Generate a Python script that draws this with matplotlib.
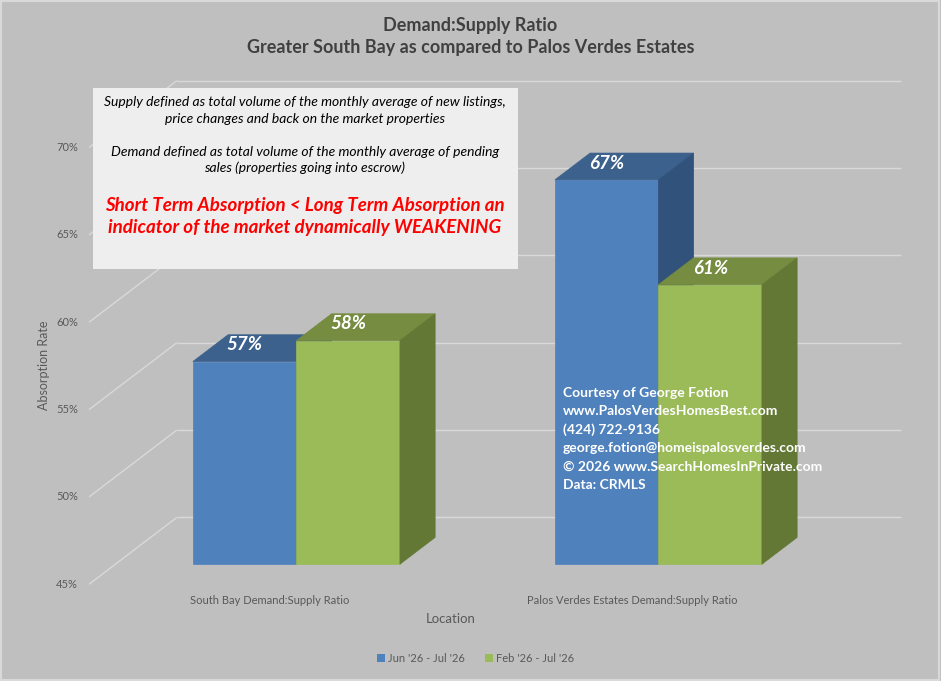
import matplotlib
matplotlib.use('Agg')
import matplotlib.pyplot as plt
from matplotlib.patches import Polygon, Rectangle, Patch

# Chart data
categories = ['South Bay Demand:Supply Ratio', 'Palos Verdes Estates Demand:Supply Ratio']
series_names = ["Jun '26 - Jul '26", "Feb '26 - Jul '26"]
short_term = [56.6, 67.0]
long_term = [57.8, 61.0]
y_ticks = [45, 50, 55, 60, 65, 70]

title_lines = ['Demand:Supply Ratio', 'Greater South Bay as compared to Palos Verdes Estates']
note_lines = ['Supply defined as total volume of the monthly average of new listings,',
              'price changes and back on the market properties',
              'Demand defined as total volume of the monthly average of pending',
              'sales (properties going into escrow)']
red_lines = ['Short Term Absorption < Long Term Absorption an',
             'indicator of the market dynamically WEAKENING']
credit_lines = ['Courtesy of George Fotion',
                'www.PalosVerdesHomesBest.com',
                '(424) 722-9136',
                'george.fotion@homeispalosverdes.com',
                '\u00a9 2026 www.SearchHomesInPrivate.com',
                'Data: CRMLS']

plt.rcParams['font.family'] = ['Lato', 'DejaVu Sans']

W, H = 941, 681
fig = plt.figure(figsize=(W / 100, H / 100), dpi=100, facecolor='#BFBFBF')
ax = fig.add_axes([0, 0, 1, 1])
ax.set_axis_off()
ax.set_facecolor('none')

# oblique projection: category unit = 362 px, 1% = 17.47 px
px_cat, px_pct = 362.0, 17.47
ax.set_xlim(-270 / px_cat, (W - 270) / px_cat)
ax.set_ylim(45 - (H - 584.3) / px_pct, 45 + 584.3 / px_pct)
ddx, ddy = 88 / px_cat, 67 / px_pct      # full floor depth
bar_front, bar_depth = 0.3, 0.4
bar_w = 0.286
x_left, x_right = -0.5, 1.5
grid_col = '#D9D9D9'
tick_col = '#595959'

# walls: gridlines
for t in y_ticks:
    ax.plot([x_left, x_left + ddx], [t, t + ddy], color=grid_col, lw=1.0, zorder=1,
            solid_capstyle='butt')
    ax.plot([x_left + ddx, x_right + ddx], [t + ddy, t + ddy], color=grid_col, lw=1.0,
            zorder=1, solid_capstyle='butt')
    ax.text(x_left - 0.03, t, f'{t}%', ha='right', va='center', fontsize=8, color=tick_col)

# bars
face_cols = [('#4F81BD', '#3C618D', '#31527A'), ('#9BBB59', '#768C41', '#637835')]
for j, vals in enumerate([short_term, long_term]):
    front, top, side = face_cols[j]
    xs = [i - bar_w + j * bar_w + bar_front * ddx for i in range(len(vals))]
    base = 45 + bar_front * ddy
    tops = [v + bar_front * ddy for v in vals]
    ax.bar(xs, [tp - base for tp in tops], width=bar_w, bottom=base, align='edge',
           color=front, edgecolor=front, lw=0.5, zorder=3 + 2 * j)
    dx, dy = bar_depth * ddx, bar_depth * ddy
    for x0, tp, v in zip(xs, tops, vals):
        ax.add_patch(Polygon([(x0, tp), (x0 + bar_w, tp), (x0 + bar_w + dx, tp + dy),
                              (x0 + dx, tp + dy)], closed=True, facecolor=top,
                             edgecolor=top, lw=0.5, zorder=3 + 2 * j))
        ax.add_patch(Polygon([(x0 + bar_w, base), (x0 + bar_w + dx, base + dy),
                              (x0 + bar_w + dx, tp + dy), (x0 + bar_w, tp)], closed=True,
                             facecolor=side, edgecolor=side, lw=0.5, zorder=3 + 2 * j))
        ax.annotate(f'{v:.0f}%', (x0 + bar_w / 2, tp), xytext=(0, 8),
                    textcoords='offset points', ha='center', va='baseline',
                    fontsize=13.5, fontweight='bold', fontstyle='italic', color='white',
                    zorder=10)

# category labels and axis titles
for i, c in enumerate(categories):
    ax.text(i, 45 - 16 / px_pct, c, ha='center', va='center', fontsize=8, color=tick_col)
fig.text(451 / W, 1 - 619 / H, 'Location', ha='center', va='center', fontsize=9.5,
         color=tick_col)
fig.text(44 / W, 1 - 365 / H, 'Absorption Rate', ha='center', va='center', fontsize=9,
         color=tick_col, rotation=90)

# title
for txt, yy in zip(title_lines, [25, 47]):
    fig.text(0.5, 1 - yy / H, txt, ha='center', va='center', fontsize=13,
             fontweight='bold', color='#404040')

# note box
fig.add_artist(Rectangle((93 / W, 1 - 269 / H), 425 / W, 181 / H,
                         transform=fig.transFigure, facecolor='#EEEEEE',
                         edgecolor='none', zorder=6))
for txt, yy in zip(note_lines, [102, 119, 152, 168]):
    fig.text(305 / W, 1 - yy / H, txt, ha='center', va='center', fontsize=10,
             fontstyle='italic', color='black', zorder=7)
for txt, yy in zip(red_lines, [206, 228]):
    fig.text(305 / W, 1 - yy / H, txt, ha='center', va='center', fontsize=13.5,
             fontstyle='italic', fontweight='bold', color='#FF0000', zorder=7)

# credits
for k, txt in enumerate(credit_lines):
    fig.text(563 / W, 1 - (393 + 18.4 * k) / H, txt, ha='left', va='center',
             fontsize=10, fontweight='bold', color='white', zorder=12)

# legend
handles = [Patch(facecolor=face_cols[j][0], edgecolor='none') for j in range(2)]
fig.legend(handles, series_names, loc='center', bbox_to_anchor=(476 / W, 1 - 658 / H),
           ncol=2, frameon=False, fontsize=8, handlelength=0.7, handleheight=0.7,
           handletextpad=0.3, columnspacing=1.8, labelcolor=tick_col)

# chart border
fig.add_artist(Rectangle((0.001, 0.001), 0.997, 0.997, transform=fig.transFigure,
                         facecolor='none', edgecolor='#D9D9D9', lw=1.5, zorder=20))

fig.savefig('out.png', dpi=100, facecolor=fig.get_facecolor())
